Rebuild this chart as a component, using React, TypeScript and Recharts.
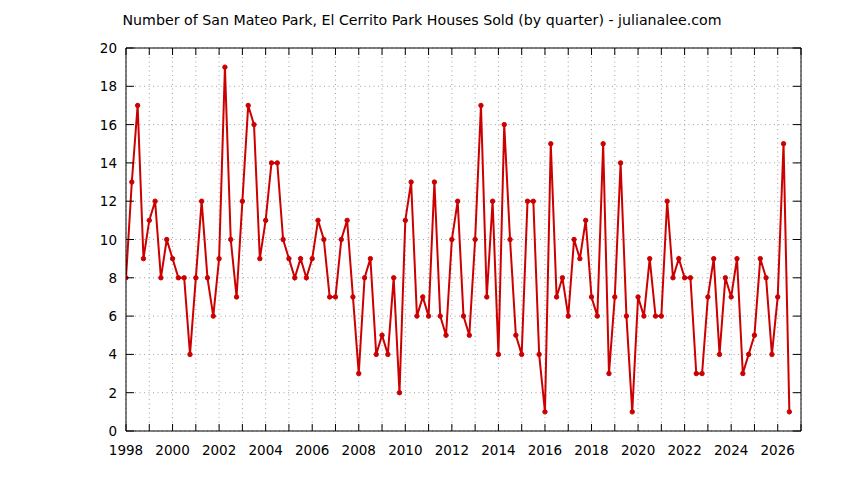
import React from 'react';
import { LineChart, Line, XAxis, YAxis, CartesianGrid } from 'recharts';

const TITLE = 'Number of San Mateo Park, El Cerrito Park Houses Sold (by quarter) - julianalee.com';
const FIRST_YEAR = 1998;

// quarterly values, 1998 Q1 .. 2026 Q3
const housesSold = [
  8, 13, 17, 9,
  11, 12, 8, 10,
  9, 8, 8, 4,
  8, 12, 8, 6,
  9, 19, 10, 7,
  12, 17, 16, 9,
  11, 14, 14, 10,
  9, 8, 9, 8,
  9, 11, 10, 7,
  7, 10, 11, 7,
  3, 8, 9, 4,
  5, 4, 8, 2,
  11, 13, 6, 7,
  6, 13, 6, 5,
  10, 12, 6, 5,
  10, 17, 7, 12,
  4, 16, 10, 5,
  4, 12, 12, 4,
  1, 15, 7, 8,
  6, 10, 9, 11,
  7, 6, 15, 3,
  7, 14, 6, 1,
  7, 6, 9, 6,
  6, 12, 8, 9,
  8, 8, 3, 3,
  7, 9, 4, 8,
  7, 9, 3, 4,
  5, 9, 8, 4,
  7, 15, 1,
];

const xTicks = [
  1998, 1999, 2000, 2001, 2002, 2003, 2004, 2005, 2006, 2007,
  2008, 2009, 2010, 2011, 2012, 2013, 2014, 2015, 2016, 2017,
  2018, 2019, 2020, 2021, 2022, 2023, 2024, 2025, 2026, 2027,
];
const xLabelled = [1998, 2000, 2002, 2004, 2006, 2008, 2010, 2012, 2014, 2016, 2018, 2020, 2022, 2024, 2026];
const yTicks = [0, 2, 4, 6, 8, 10, 12, 14, 16, 18, 20];

const data = housesSold.map((v, i) => ({ t: FIRST_YEAR + i / 4, sold: v }));

const FONT = '"DejaVu Sans", Verdana, sans-serif';
const FS = 13.5;
const TITLE_FS = 14.2;
const X_TICK_LEN = 7;
const Y_TICK_LEN = 8;
const RED = '#cc0000';

const BottomTick = (props: any) => {
  const { x, y, payload } = props;
  const v = payload.value;
  return (
    <g>
      <line x1={x} y1={y} x2={x} y2={y - X_TICK_LEN} stroke="#000" strokeWidth={1} />
      {xLabelled.includes(v) && (
        <text x={x} y={y + 24} textAnchor="middle" fontFamily={FONT} fontSize={FS} fill="#000">
          {v}
        </text>
      )}
    </g>
  );
};

const TopTick = (props: any) => {
  const { x, y } = props;
  return <line x1={x} y1={y} x2={x} y2={y + X_TICK_LEN} stroke="#000" strokeWidth={1} />;
};

const LeftTick = (props: any) => {
  const { x, y, payload } = props;
  return (
    <g>
      <line x1={x} y1={y} x2={x + Y_TICK_LEN} y2={y} stroke="#000" strokeWidth={1} />
      <text x={x - 9} y={y + 5} textAnchor="end" fontFamily={FONT} fontSize={FS} fill="#000">
        {payload.value}
      </text>
    </g>
  );
};

const RightTick = (props: any) => {
  const { x, y } = props;
  return <line x1={x} y1={y} x2={x - Y_TICK_LEN} y2={y} stroke="#000" strokeWidth={1} />;
};

export default function App() {
  return (
    <div style={{ position: 'absolute', left: 0, top: 0, width: 844, height: 480, background: '#fff' }}>
      <svg width={844} height={40} style={{ position: 'absolute', left: 0, top: 0 }}>
        <text x={422} y={25} textAnchor="middle" fontFamily={FONT} fontSize={TITLE_FS} fill="#000">
          {TITLE}
        </text>
      </svg>
      <LineChart
        width={844}
        height={480}
        data={data}
        margin={{ top: 47, right: 42, bottom: 48, left: 125 }}
        style={{ position: 'absolute', left: 0, top: 0 }}
      >
        <CartesianGrid stroke="#a0a0a0" strokeDasharray="1 3.5" strokeWidth={1} />
        <XAxis
          dataKey="t"
          type="number"
          domain={[1998, 2027]}
          ticks={xTicks}
          interval={0}
          height={1}
          tickSize={0}
          tickMargin={0}
          tickLine={false}
          axisLine={{ stroke: '#000', strokeWidth: 1 }}
          tick={<BottomTick />}
          allowDataOverflow
        />
        <XAxis
          xAxisId="top"
          orientation="top"
          dataKey="t"
          type="number"
          domain={[1998, 2027]}
          ticks={xTicks}
          interval={0}
          height={1}
          tickSize={0}
          tickMargin={0}
          tickLine={false}
          axisLine={{ stroke: '#000', strokeWidth: 1 }}
          tick={<TopTick />}
          allowDataOverflow
        />
        <YAxis
          type="number"
          domain={[0, 20]}
          ticks={yTicks}
          interval={0}
          width={1}
          tickSize={0}
          tickMargin={0}
          tickLine={false}
          axisLine={{ stroke: '#000', strokeWidth: 1 }}
          tick={<LeftTick />}
          allowDataOverflow
        />
        <YAxis
          yAxisId="right"
          orientation="right"
          type="number"
          domain={[0, 20]}
          ticks={yTicks}
          interval={0}
          width={1}
          tickSize={0}
          tickMargin={0}
          tickLine={false}
          axisLine={{ stroke: '#000', strokeWidth: 1 }}
          tick={<RightTick />}
          allowDataOverflow
        />
        <Line
          type="linear"
          dataKey="sold"
          stroke={RED}
          strokeWidth={2}
          dot={{ r: 2.2, fill: RED, stroke: RED, strokeWidth: 1 }}
          isAnimationActive={false}
        />
      </LineChart>
    </div>
  );
}
